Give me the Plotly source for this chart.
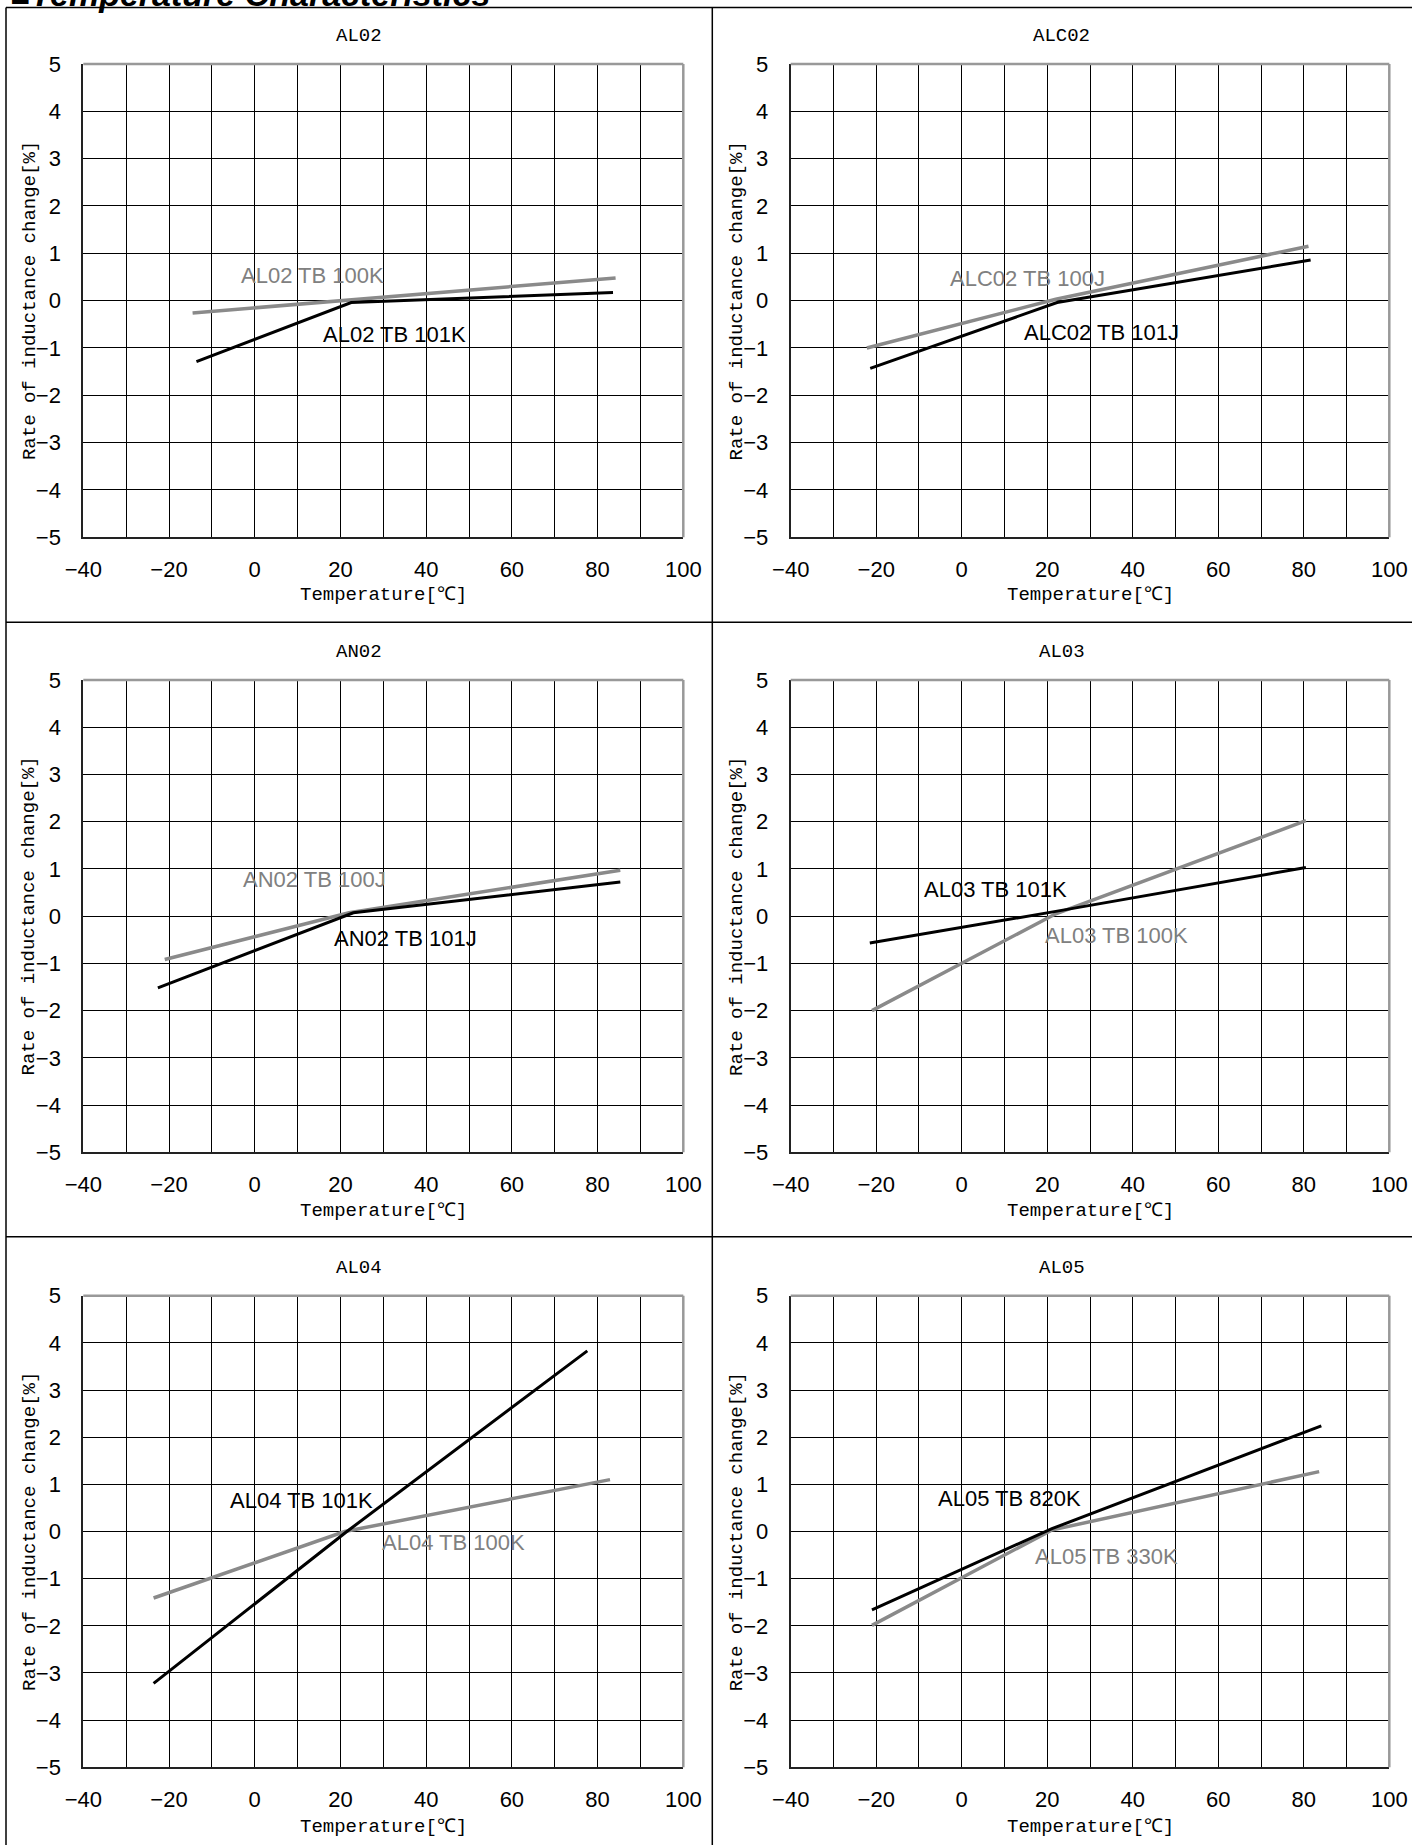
import plotly.graph_objects as go

W, H = 1412, 1845

# ---------------- data ----------------
panel_titles = ["AL02", "ALC02", "AN02", "AL03", "AL04", "AL05"]

gray_names = ["AL02 TB 100K", "ALC02 TB 100J", "AN02 TB 100J", "AL03 TB 100K", "AL04 TB 100K", "AL05 TB 330K"]
black_names = ["AL02 TB 101K", "ALC02 TB 101J", "AN02 TB 101J", "AL03 TB 101K", "AL04 TB 101K", "AL05 TB 820K"]

gray_t = [
    [-14.5, 22, 84.2],
    [-22.2, 22, 81.1],
    [-21.0, 22, 85.3],
    [-21.0, 22, 80.5],
    [-23.6, 21, 82.9],
    [-21.0, 21, 83.6],
]
gray_v = [
    [-0.26, 0.02, 0.48],
    [-1.00, 0.03, 1.15],
    [-0.92, 0.07, 0.97],
    [-2.00, 0.05, 2.02],
    [-1.41, 0.00, 1.10],
    [-1.99, 0.03, 1.27],
]
black_t = [
    [-13.6, 22.5, 83.6],
    [-21.4, 22.3, 81.6],
    [-22.6, 23.0, 85.3],
    [-21.5, 22.0, 80.5],
    [-23.6, 21.5, 77.6],
    [-21.0, 21.1, 84.1],
]
black_v = [
    [-1.29, -0.04, 0.17],
    [-1.43, -0.04, 0.86],
    [-1.52, 0.07, 0.72],
    [-0.57, 0.10, 1.03],
    [-3.22, 0.00, 3.83],
    [-1.66, 0.06, 2.24],
]
# label anchor positions (data coords)
gray_lab_xy = [(13.4, 0.54), (15.4, 0.46), (13.9, 0.77), (36.2, -0.42), (46.4, -0.23), (33.8, -0.54)]
black_lab_xy = [(32.5, -0.71), (32.8, -0.67), (35.1, -0.47), (7.9, 0.57), (11.0, 0.66), (11.2, 0.71)]

x_range = [-40, 100]
y_range = [-5, 5]
x_title = "Temperature[℃]"
y_title = "Rate of inductance change[%]"
page_title = "■Temperature Characteristics"

# ---------------- layout geometry (pixels) ----------------
col_x0 = [83.3, 790.7]
col_x1 = [683.3, 1389.3]
row_top = [64.0, 679.9, 1295.7]
row_bot = [537.3, 1152.3, 1767.3]
row_step = 615.85
chart_cx = [359.0, 1061.5]

GRAY = "#8a8a8a"
GRAY_TXT = "#808080"
TICK_FONT = dict(family="Liberation Sans Narrow, Liberation Sans, Arial, sans-serif", size=22, color="black")
MONO = "Liberation Mono, DejaVu Sans Mono, monospace"
LAB_FONT = "Liberation Sans, Arial, sans-serif"

fig = go.Figure()
annotations = []
shapes = []

def px(x):
    return x / W

def py(y):
    return 1 - y / H

for i in range(6):
    r, c = divmod(i, 2)
    idx = "" if i == 0 else str(i + 1)
    xa, ya = "x" + idx, "y" + idx
    fig.update_layout({
        "xaxis" + idx: dict(
            domain=[px(col_x0[c]), px(col_x1[c])], anchor=ya, range=x_range, automargin=False,
            tick0=-40, dtick=20, showgrid=True, gridcolor="black", gridwidth=1,
            minor=dict(tick0=-40, dtick=10, showgrid=True, gridcolor="black", gridwidth=1),
            zeroline=False, showline=True, linecolor="#222", linewidth=2,
            ticks="", ticklabelstandoff=11, tickfont=TICK_FONT, fixedrange=True,
        ),
        "yaxis" + idx: dict(
            domain=[py(row_bot[r]), py(row_top[r])], anchor=xa, range=y_range, automargin=False,
            tick0=-5, dtick=1, showgrid=True, gridcolor="black", gridwidth=1,
            zeroline=False, showline=True, linecolor="#222", linewidth=2,
            ticks="", ticklabelstandoff=16, tickfont=TICK_FONT, fixedrange=True,
        ),
    })
    fig.add_trace(go.Scatter(x=gray_t[i], y=gray_v[i], mode="lines", xaxis=xa, yaxis=ya,
                             line=dict(color=GRAY, width=3.5), showlegend=False, name=gray_names[i]))
    fig.add_trace(go.Scatter(x=black_t[i], y=black_v[i], mode="lines", xaxis=xa, yaxis=ya,
                             line=dict(color="black", width=3), showlegend=False, name=black_names[i]))
    # series labels
    annotations.append(dict(x=gray_lab_xy[i][0], y=gray_lab_xy[i][1], xref=xa, yref=ya, text=gray_names[i],
                            showarrow=False, font=dict(family=LAB_FONT, size=22, color=GRAY_TXT)))
    annotations.append(dict(x=black_lab_xy[i][0], y=black_lab_xy[i][1], xref=xa, yref=ya, text=black_names[i],
                            showarrow=False, font=dict(family=LAB_FONT, size=22, color="black")))
    # panel title
    annotations.append(dict(x=px(chart_cx[c]), y=py(36 + r * row_step), xref="paper", yref="paper",
                            text=panel_titles[i], showarrow=False, xanchor="center", yanchor="middle",
                            font=dict(family=MONO, size=19, color="black")))
    # x title
    annotations.append(dict(x=px((col_x0[c] + col_x1[c]) / 2), y=py(595 + r * row_step), xref="paper", yref="paper",
                            text=x_title, showarrow=False, xanchor="center", yanchor="middle",
                            font=dict(family=MONO, size=19, color="black")))
    # y title
    annotations.append(dict(x=px(29.4 + c * 707.4), y=py((row_top[r] + row_bot[r]) / 2), xref="paper", yref="paper",
                            text=y_title, showarrow=False, xanchor="center", yanchor="middle", textangle=-90,
                            font=dict(family=MONO, size=19, color="black")))
    # gray top/right plot-area border
    shapes.append(dict(type="line", xref=xa + " domain", yref=ya + " domain", x0=0, x1=1, y0=1, y1=1,
                       line=dict(color="#999", width=2.5), layer="above"))
    shapes.append(dict(type="line", xref=xa + " domain", yref=ya + " domain", x0=1, x1=1, y0=0, y1=1,
                       line=dict(color="#999", width=2.5), layer="above"))

# outer table frame and dividers
frame = dict(color="black", width=1.5)
shapes.append(dict(type="line", xref="paper", yref="paper", x0=px(6), x1=1, y0=py(7.5), y1=py(7.5), line=frame))
shapes.append(dict(type="line", xref="paper", yref="paper", x0=px(6), x1=px(6), y0=py(7.5), y1=0, line=frame))
shapes.append(dict(type="line", xref="paper", yref="paper", x0=px(712.3), x1=px(712.3), y0=py(7.5), y1=0, line=frame))
for yy in [622.3, 1236.7]:
    shapes.append(dict(type="line", xref="paper", yref="paper", x0=px(6), x1=1, y0=py(yy), y1=py(yy), line=frame))

annotations.append(dict(x=px(8), y=py(15), xref="paper", yref="paper", text="<b><i>" + page_title + "</i></b>",
                        showarrow=False, xanchor="left", yanchor="bottom",
                        font=dict(family=LAB_FONT, size=34, color="black")))

fig.update_layout(
    width=W, height=H, margin=dict(l=0, r=0, t=0, b=0, autoexpand=False),
    paper_bgcolor="white", plot_bgcolor="white",
    annotations=annotations, shapes=shapes, showlegend=False,
)

fig.write_html("out.html")
